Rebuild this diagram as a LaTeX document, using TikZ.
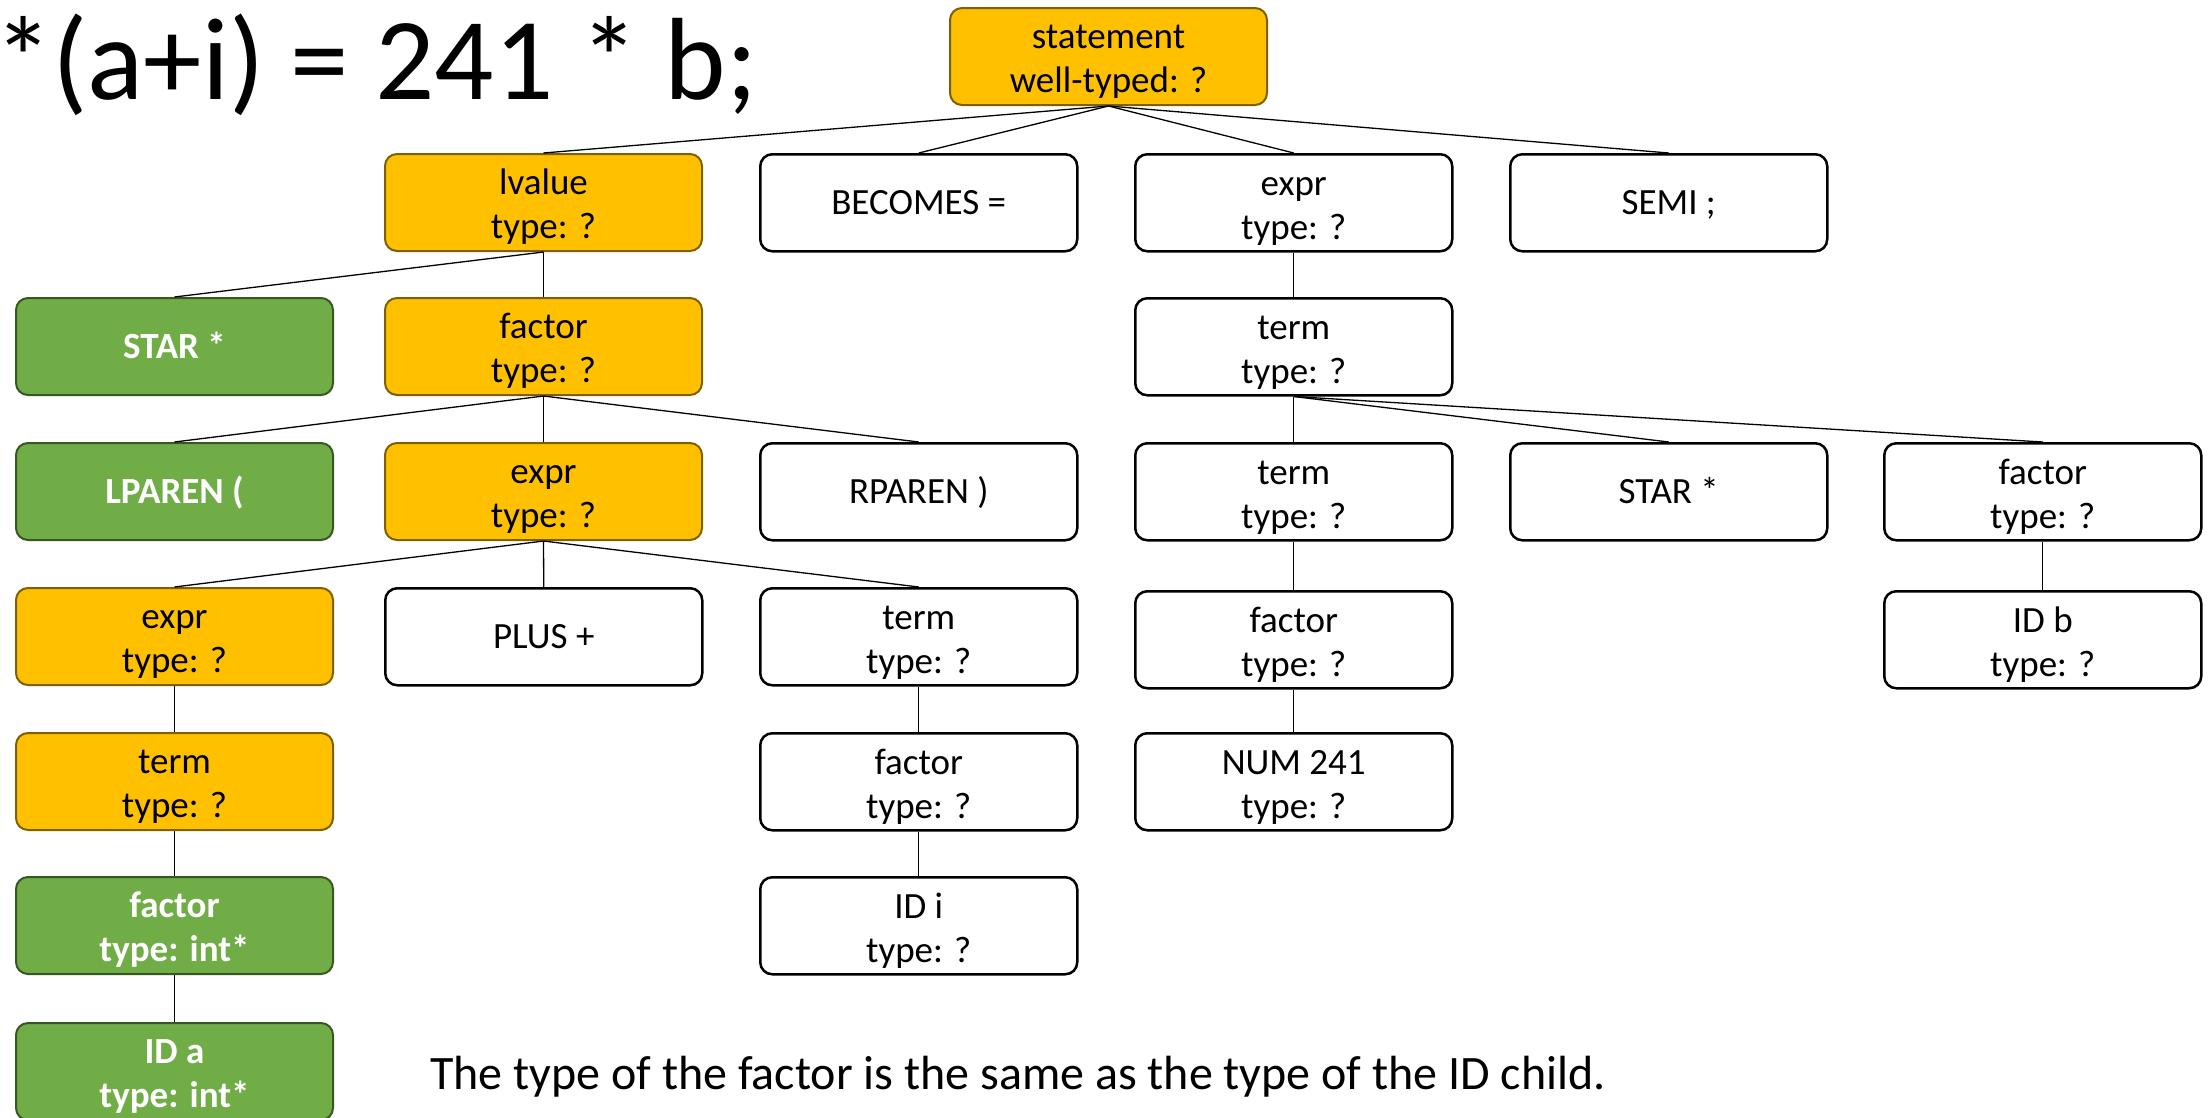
\documentclass[tikz,border=0pt]{standalone}
\usepackage{fontspec}
\setmainfont{Carlito}
\definecolor{gold}{HTML}{FFC000}
\definecolor{goldline}{HTML}{7F6000}
\definecolor{leaf}{HTML}{70AD47}
\definecolor{leafline}{HTML}{385723}
% symmetric line strut so that text centres on its cap height
\newcommand\capstrut{\rule[-0.26em]{0pt}{1.16em}}
% taller strut for the first of two lines
\newcommand\hi{\rule[-0.26em]{0pt}{1.30em}}
\begin{document}
\begin{tikzpicture}[x=1pt,y=-1pt,
  box/.style={rounded corners=12pt, minimum width=317pt, minimum height=97pt,
    align=center, inner sep=0pt, anchor=north west,
    font=\fontsize{37}{44}\selectfont,
    execute at begin node=\capstrut, execute at end node=\capstrut},
  plain/.style={box, draw=black, line width=2.5pt, fill=white},
  hot/.style={box, draw=goldline, line width=2pt, fill=gold},
  done/.style={box, draw=leafline, line width=2pt, fill=leaf, text=white,
    font=\fontsize{37}{44}\selectfont\bfseries},
  edge/.style={line width=1.3pt}]
\useasboundingbox (0,0) rectangle (2211,1117);

% source line and remark
\node[anchor=base west, inner sep=0pt, font=\fontsize{117}{130}\selectfont] (src) at (-6,99) {*(a+i) = 241 * b;};
\node[anchor=base west, inner sep=0pt, font=\fontsize{48}{56}\selectfont] (note) at (430,1089)
  {The type of the factor is the same as the type of the ID child.};

% root
\node[hot] (stmt) at (949,7) {\hi statement\\well-typed: ?};

% row 1
\node[hot]   (lv)   at (384,153)  {\hi lvalue\\type: ?};
\node[plain] (bec)  at (759,153)  {BECOMES =};
\node[plain] (rex)  at (1134,153) {\hi expr\\type: ?};
\node[plain] (semi) at (1509,153) {SEMI ;};

% row 2
\node[done]  (star1) at (15,297)   {STAR *};
\node[hot]   (fac1)  at (384,297)  {\hi factor\\type: ?};
\node[plain] (rterm) at (1134,297) {\hi term\\type: ?};

% row 3
\node[done]  (lpar)  at (15,442)   {LPAREN (};
\node[hot]   (pex)   at (384,442)  {\hi expr\\type: ?};
\node[plain] (rpar)  at (759,442)  {RPAREN )};
\node[plain] (rterm2) at (1134,442) {\hi term\\type: ?};
\node[plain] (star2) at (1509,442) {STAR *};
\node[plain] (rfac)  at (1883,442) {\hi factor\\type: ?};

% row 4
\node[hot]   (aex)   at (15,587)   {\hi expr\\type: ?};
\node[plain] (plus)  at (384,587)  {PLUS +};
\node[plain] (iterm) at (759,587)  {\hi term\\type: ?};
\node[plain] (nfac)  at (1134,590) {\hi factor\\type: ?};
\node[plain] (idb)   at (1883,590) {\hi ID b\\type: ?};

% row 5
\node[hot]   (aterm) at (15,732)   {\hi term\\type: ?};
\node[plain] (ifac)  at (759,732)  {\hi factor\\type: ?};
\node[plain] (num)   at (1134,732) {\hi NUM 241\\type: ?};

% row 6
\node[done]  (afac)  at (15,876)   {\hi factor\\type: int*};
\node[plain] (idi)   at (759,876)  {\hi ID i\\type: ?};

% row 7
\node[done]  (ida)   at (15,1022)  {\hi ID a\\type: int*};

% tree edges
\foreach \p/\c in {stmt/lv, stmt/bec, stmt/rex, stmt/semi,
                   lv/star1, lv/fac1,
                   fac1/lpar, fac1/pex, fac1/rpar,
                   pex/aex, pex/plus, pex/iterm,
                   aex/aterm, aterm/afac, afac/ida,
                   iterm/ifac, ifac/idi,
                   rex/rterm, rterm/rterm2, rterm/star2, rterm/rfac,
                   rterm2/nfac, nfac/num, rfac/idb}
  \draw[edge] (\p.south) -- (\c.north);
\end{tikzpicture}
\end{document}
